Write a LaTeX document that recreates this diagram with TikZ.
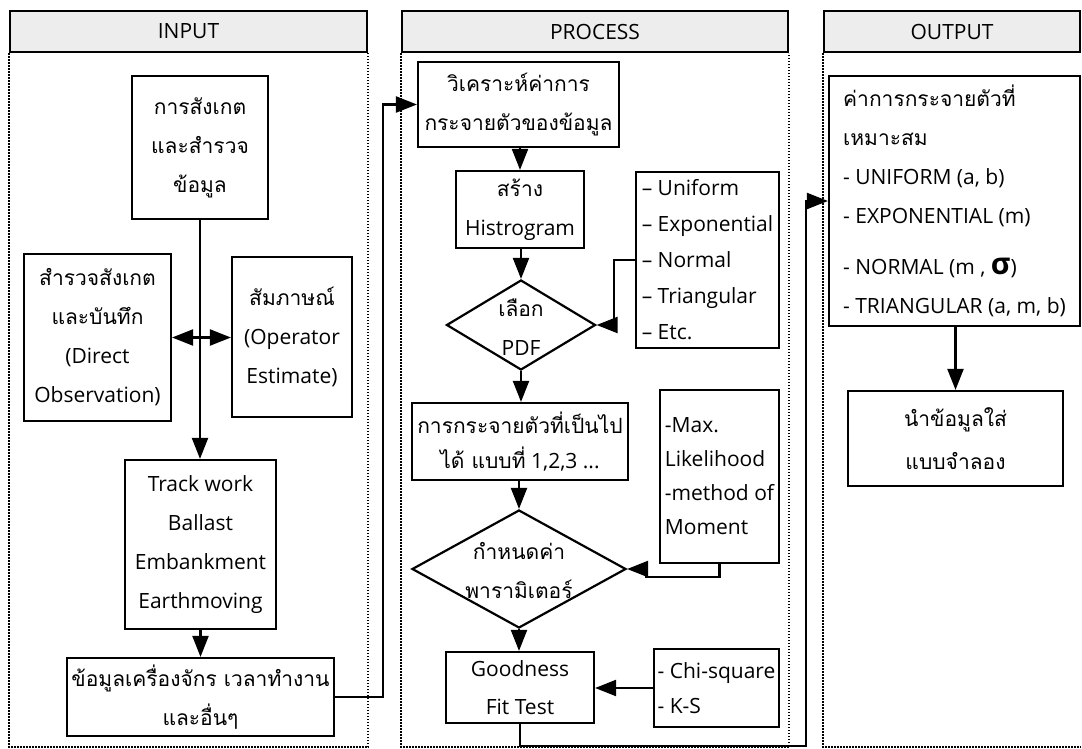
\documentclass[tikz,border=0pt]{standalone}
\usepackage{fontspec}
\setmainfont{Open Sans}
\newfontfamily\thaif[Script=Thai]{Loma}
\usetikzlibrary{arrows.meta,shapes.geometric}

\definecolor{hdrgray}{HTML}{EDEDED}
% fonts: Latin text, Thai text, column headers
\newcommand\lafont{\fontsize{21}{39}\selectfont}
\newcommand\thfont{\thaif\fontsize{21}{39}\selectfont}
\newcommand\hdfont{\fontsize{21}{26}\selectfont}
\newcommand\tightfont{\fontsize{21}{35}\selectfont}

\begin{document}
\begin{tikzpicture}[x=1pt,y=-1pt,
  box/.style={draw=black, line width=2.2pt, fill=white, inner sep=0pt, align=center, font=\lafont},
  lbox/.style={box, align=left},
  thbox/.style={box, font=\thfont},
  hdr/.style={draw=black, line width=2.2pt, fill=hdrgray, inner sep=0pt, font=\hdfont},
  dia/.style={draw=black, line width=2.2pt, fill=white, diamond, inner sep=0pt},
  lane/.style={line width=1.7pt, dash pattern=on 1.6pt off 1.4pt},
  arr/.style={line width=2.2pt, -{Triangle[length=21pt,width=16pt]}},
  darr/.style={line width=2.2pt, {Triangle[length=21pt,width=16pt]}-{Triangle[length=21pt,width=16pt]}},
]
\useasboundingbox (0,0) rectangle (1082,749);

% ---- column headers and lanes ----
\node[hdr, minimum width=357, minimum height=41] (hIn)  at (188.5,31.5) {INPUT};
\node[hdr, minimum width=386, minimum height=41] (hPr)  at (595,31.5)   {PROCESS};
\node[hdr, minimum width=256, minimum height=41] (hOut) at (952,31.5)   {OUTPUT};
\coordinate (floor) at (0,747);
\draw[lane] (hIn.south west) -- (hIn.south west |- floor) -- (hIn.south east |- floor) -- (hIn.south east);
\draw[lane] (hPr.south west) -- (hPr.south west |- floor) -- (hPr.south east |- floor) -- (hPr.south east);
\draw[lane] (hOut.south west) -- (hOut.south west |- floor) -- (hOut.south east |- floor);

% ---- INPUT ----
\node[thbox, minimum width=136, minimum height=143] (obs) at (200,147.5) {การสังเกต\\และสำรวจ\\ข้อมูล};
\node[box, minimum width=147, minimum height=167] (direct) at (97.5,337.5)
  {{\thaif สำรวจสังเกต}\\{\thaif และบันทึก}\\(Direct\\Observation)};
\node[box, minimum width=120, minimum height=160] (oper) at (292,337)
  {{\thaif สัมภาษณ์}\\(Operator\\Estimate)};
\node[box, minimum width=151, minimum height=169] (work) at (200.5,544.5)
  {Track work\\Ballast\\Embankment\\Earthmoving};
\node[thbox, minimum width=267, minimum height=78] (mach) at (200.5,697)
  {ข้อมูลเครื่องจักร เวลาทำงาน\\และอื่นๆ};

% ---- PROCESS ----
\node[thbox, minimum width=201, minimum height=85] (anal) at (518.5,104.5) {วิเคราะห์ค่าการ\\กระจายตัวของข้อมูล};
\node[box, minimum width=128, minimum height=77] (hist) at (520,209.5) {{\thaif สร้าง}\\Histrogram};
\node[dia, minimum width=149, minimum height=90] (pdf) at (521,325) {};
\node[font=\lafont, align=center, inner sep=0pt] (pdftxt) at (521,327) {{\thaif เลือก}\\PDF};
\node[lbox, font=\fontsize{21}{36}\selectfont, minimum width=143, minimum height=176] (dists) at (707.5,260)
  {– Uniform\\– Exponential\\– Normal\\– Triangular\\– Etc.};
\node[box, font=\tightfont, minimum width=216, minimum height=77] (cand) at (520,441.5)
  {{\thaif การกระจายตัวที่เป็นไป}\\{\thaif ได้ แบบที่} 1,2,3 ...};
\node[lbox, font=\fontsize{21}{34}\selectfont, minimum width=119, minimum height=173] (mle) at (719.5,476.5)
  {-Max.\\Likelihood\\-method of\\Moment};
\node[dia, minimum width=214, minimum height=118] (param) at (519,569) {};
\node[font=\thfont, align=center, inner sep=0pt] (paramtxt) at (519,571) {กำหนดค่า\\พารามิเตอร์};
\node[box, font=\fontsize{21}{38}\selectfont, minimum width=148, minimum height=71] (fit) at (520,687.5) {Goodness\\Fit Test};
\node[lbox, font=\tightfont, minimum width=125, minimum height=78] (tests) at (716.5,688) {- Chi-square\\- K-S};

% ---- OUTPUT ----
\node[lbox, minimum width=251, minimum height=250] (best) at (954.5,201)
  {{\thaif ค่าการกระจายตัวที่}\\{\thaif เหมาะสม}\\- UNIFORM (a, b)\\- EXPONENTIAL (m)\\[12pt]- NORMAL (m , {\fontsize{30}{39}\selectfont\bfseries σ})\\- TRIANGULAR (a, m, b)};
\node[thbox, font=\thaif\fontsize{21}{43}\selectfont, minimum width=215, minimum height=95] (model) at (955.5,438.5) {นำข้อมูลใส่\\แบบจำลอง};

% ---- connectors ----
\coordinate (busA) at (383,0);
\coordinate (kneeI) at (614,0);
\coordinate (kneeK) at (646,577);
\coordinate (busB) at (806,746);

\draw[arr] (obs.south) -- (obs.south |- work.north);
\draw[darr] (direct.east) -- (direct.east -| oper.west);
\draw[arr] (work.south) -- (work.south |- mach.north);
\draw[arr] (mach.east) -- (mach.east -| busA) |- (anal.west);

\draw[arr] (hist.north |- anal.south) -- (hist.north);
\draw[arr] (hist.south -| pdf.north) -- (pdf.north);
\draw[arr] (dists.west) -| (pdf.east -| kneeI) -- (pdf.east);
\draw[arr] (pdf.south) -- (pdf.south |- cand.north);
\draw[arr] (cand.south -| param.north) -- (param.north);
\draw[arr] (mle.south) |- (kneeK) -- (kneeK |- param.east) -- (param.east);
\draw[arr] (param.south) -- (param.south |- fit.north);
\draw[arr] (tests.west) -- (tests.west -| fit.east);
\draw[arr] (fit.south) |- (busB) |- (best.west);

\draw[arr] (best.south -| model.north) -- (model.north);
\end{tikzpicture}
\end{document}
